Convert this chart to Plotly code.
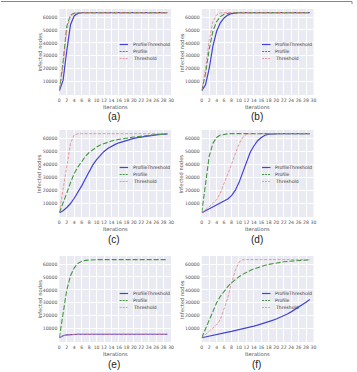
import plotly.graph_objects as go

W, H = 357, 372

iterations = list(range(30))
ytick_vals = [10000, 20000, 30000, 40000, 50000, 60000]
ytick_text = ["10000", "20000", "30000", "40000", "50000", "60000"]
xtick_vals = list(range(0, 31, 2))
series_names = ["ProfileThreshold", "Profile", "Threshold"]
panel_labels = ["(a)", "(b)", "(c)", "(d)", "(e)", "(f)"]

S = 63400  # saturation level

# (a)
a_profthr = [3000, 11000, 34000, 54000, 61000, 62800, 63300] + [S] * 23
a_profile = [3000, 25000, 53000, 61500, 63000, 63300] + [S] * 24
a_thresh = [3000, 22000, 50000, 61000, 63000, 63300] + [S] * 24
# (b)
b_profthr = [3000, 7500, 20000, 37500, 49000, 55500, 59300, 61500, 62700, 63200] + [S] * 20
b_profile = [3000, 16000, 35000, 49000, 56500, 60300, 62200, 63000, 63300] + [S] * 21
b_thresh = [3000, 20000, 42000, 56500, 61800, 63100] + [S] * 24
# (c)
c_profthr = [3000, 4500, 7000, 10000, 14000, 18500, 23500, 29000, 34500, 39500,
             43500, 46800, 49800, 52000, 53800, 55200, 56400, 57400, 58300, 59100,
             59800, 60400, 60900, 61400, 61800, 62200, 62500, 62800, 63000, 63200]
c_profile = [3000, 10000, 18000, 26000, 33000, 38000, 42500, 46000, 49000, 51300,
             53200, 54800, 56000, 57000, 57800, 58500, 59100, 59600, 60000, 60400,
             60800, 61200, 61500, 61800, 62100, 62400, 62600, 62800, 63000, 63200]
c_thresh = [3000, 21000, 40000, 56000, 62500, 63300] + [S] * 24
# (d)
d_profthr = [3000, 4500, 6000, 7500, 9000, 10500, 12000, 13500, 16000, 20000,
             26000, 34000, 42000, 49000, 54000, 58000, 60500, 62200, 63000, 63300] + [S] * 10
d_profile = [3000, 25000, 46000, 56000, 60500, 62300, 63000, 63300] + [S] * 22
d_thresh = [3000, 5000, 7500, 10000, 13000, 18000, 25000, 32000, 40000, 48000,
            55500, 60500, 62800, 63300] + [S] * 16
# (e)
e_profthr = [3000, 4500, 5200, 5500, 5600] + [5700] * 25
e_profile = [3000, 22000, 40000, 51000, 57000, 60500, 62200, 62800, 63100, 63300] + [S] * 20
e_thresh = [3000, 4500, 5200, 5500, 5600] + [5700] * 25
# (f)
f_profthr = [3000, 3700, 4300, 4900, 5500, 6100, 6700, 7300, 7900, 8500,
             9200, 9900, 10600, 11300, 12000, 12800, 13600, 14500, 15400, 16400,
             17500, 18700, 20000, 21400, 23000, 24700, 26500, 28400, 30400, 32500]
f_profile = [3000, 10000, 17000, 24000, 30000, 35000, 39000, 42500, 45500, 48000,
             50200, 52000, 53700, 55000, 56200, 57300, 58200, 59000, 59700, 60300,
             60800, 61300, 61700, 62000, 62300, 62600, 62800, 63000, 63200, 63300]
f_thresh = [3000, 5500, 8000, 10500, 13000, 17000, 25000, 34000, 45000, 55000,
            61500, 63300] + [S] * 18

panels = [
    (a_profthr, a_profile, a_thresh),
    (b_profthr, b_profile, b_thresh),
    (c_profthr, c_profile, c_thresh),
    (d_profthr, d_profile, d_thresh),
    (e_profthr, e_profile, e_thresh),
    (f_profthr, f_profile, f_thresh),
]

# pixel geometry of each panel (left, right, top, bottom)
cols = [(59, 172), (203, 316)]
rows = [(9, 95), (130, 217), (256, 342)]

line_styles = [
    dict(color="#4343d6", width=1.2, dash="solid"),
    dict(color="#43973f", width=1.1, dash="5px,2px"),
    dict(color="#ec8088", width=0.8, dash="3px,1.5px"),
]

def px(x):
    return x / W

def py(y):
    return 1 - y / H

fig = go.Figure()
layout = dict(
    width=W, height=H,
    margin=dict(l=0, r=0, t=0, b=0),
    paper_bgcolor="white",
    plot_bgcolor="#EAEAF2",
    showlegend=False,
    font=dict(family="DejaVu Sans", color="#555555", size=5),
)
annotations = []
shapes = []

tick_font = dict(family="DejaVu Sans", size=4.6, color="#555555")

for i, data in enumerate(panels):
    r, c = divmod(i, 2)
    l, rr = cols[c]
    t, b = rows[r]
    sfx = "" if i == 0 else str(i + 1)
    xa, ya = "x" + sfx, "y" + sfx
    for k, ys in enumerate(data):
        fig.add_trace(go.Scatter(x=iterations, y=ys, xaxis=xa, yaxis=ya, mode="lines",
                                 line=line_styles[k], name=series_names[k],
                                 hoverinfo="skip"))
    layout["xaxis" + sfx] = dict(
        domain=[px(l), px(rr)], anchor=ya, range=[0, 30],
        tickvals=xtick_vals, ticktext=[str(v) for v in xtick_vals], tickangle=0,
        showgrid=True, gridcolor="white", gridwidth=0.7,
        zeroline=False, showline=False, ticks="", tickfont=tick_font,
        ticklabelstandoff=1,
    )
    layout["yaxis" + sfx] = dict(
        domain=[py(b), py(t)], anchor=xa, range=[-300, 66200],
        tickvals=ytick_vals, ticktext=ytick_text,
        showgrid=True, gridcolor="white", gridwidth=0.7,
        zeroline=False, showline=False, ticks="", tickfont=tick_font,
        ticklabelstandoff=1,
    )
    cx = (l + rr) / 2
    # axis titles
    annotations.append(dict(text="Iterations", x=px(cx), y=py(b + 11.5), xref="paper", yref="paper",
                            showarrow=False, font=dict(family="DejaVu Sans", size=5.2, color="#555555"),
                            xanchor="center", yanchor="middle"))
    annotations.append(dict(text="Infected nodes", x=px(l - 20), y=py((t + b) / 2), xref="paper",
                            yref="paper", showarrow=False, textangle=-90,
                            font=dict(family="DejaVu Sans", size=5.2, color="#555555"),
                            xanchor="center", yanchor="middle"))
    # panel label
    annotations.append(dict(text=panel_labels[i], x=px(cx - 1), y=py(b + 22), xref="paper",
                            yref="paper", showarrow=False,
                            font=dict(family="Liberation Sans", size=10, color="#222222"),
                            xanchor="center", yanchor="middle"))
    # custom legend
    lx0 = l + 61
    leg_y0 = t + 35.5 if r == 0 else t + 37.5
    for k in range(3):
        yy = leg_y0 + k * 7
        st = line_styles[k]
        shapes.append(dict(type="line", xref="paper", yref="paper",
                           x0=px(lx0), x1=px(lx0 + 8.5), y0=py(yy), y1=py(yy),
                           line=dict(color=st["color"], width=st["width"],
                                     dash="solid" if k == 0 else "2px,1px")))
        annotations.append(dict(text=series_names[k], x=px(lx0 + 11.5), y=py(yy), xref="paper",
                                yref="paper", showarrow=False, xanchor="left", yanchor="middle",
                                font=dict(family="DejaVu Sans", size=4.6, color="#333333")))

# top frame line
shapes.append(dict(type="line", xref="paper", yref="paper", x0=0, x1=px(355), y0=py(1.5), y1=py(1.5),
                   line=dict(color="#888888", width=1)))
shapes.append(dict(type="line", xref="paper", yref="paper", x0=px(355), x1=px(355), y0=py(1.5), y1=py(4),
                   line=dict(color="#888888", width=1)))

layout["annotations"] = annotations
layout["shapes"] = shapes
fig.update_layout(**layout)
fig.write_html("out.html")
